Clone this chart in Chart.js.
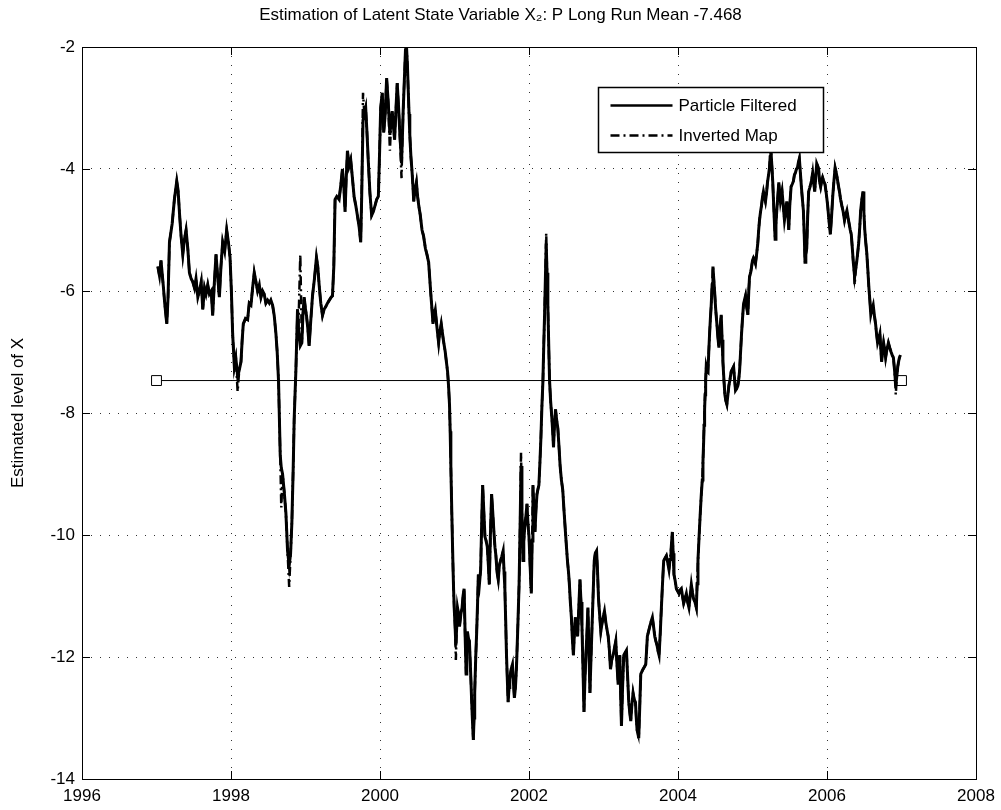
<!DOCTYPE html>
<html>
<head>
<meta charset="utf-8">
<title>Latent State Variable X2</title>
<script src="https://cdn.jsdelivr.net/npm/chart.js@4.4.1/dist/chart.umd.min.js"></script>
<style>
  html, body { margin: 0; padding: 0; background: #fff; }
  #wrap { width: 1001px; height: 810px; }
</style>
</head>
<body>
<div id="wrap"><canvas id="chartX2" width="1001" height="810"></canvas></div>
<script>
// sample dates (decimal years)
const years = [
  1997.018, 1997.04, 1997.06, 1997.09, 1997.11, 1997.138, 1997.155, 1997.174, 1997.21, 1997.24,
  1997.272, 1997.29, 1997.31, 1997.33, 1997.353, 1997.375, 1997.397, 1997.42, 1997.442, 1997.465,
  1997.487, 1997.51, 1997.53, 1997.555, 1997.576, 1997.6, 1997.621, 1997.645, 1997.665, 1997.688,
  1997.71, 1997.735, 1997.754, 1997.775, 1997.799, 1997.82, 1997.844, 1997.865, 1997.888, 1997.915,
  1997.942, 1997.965, 1997.987, 1998.005, 1998.022, 1998.045, 1998.065, 1998.089, 1998.11, 1998.134,
  1998.15, 1998.165, 1998.195, 1998.223, 1998.245, 1998.268, 1998.29, 1998.312, 1998.335, 1998.357,
  1998.38, 1998.402, 1998.424, 1998.445, 1998.468, 1998.491, 1998.515, 1998.535, 1998.558, 1998.58,
  1998.603, 1998.62, 1998.638, 1998.661, 1998.675, 1998.692, 1998.715, 1998.737, 1998.759, 1998.781,
  1998.8, 1998.817, 1998.835, 1998.848, 1998.871, 1998.893, 1998.905, 1998.93, 1998.951, 1998.965,
  1998.982, 1999.0, 1999.013, 1999.03, 1999.049, 1999.07, 1999.094, 1999.12, 1999.147, 1999.165,
  1999.183, 1999.205, 1999.228, 1999.25, 1999.275, 1999.295, 1999.32, 1999.345, 1999.362, 1999.38,
  1999.397, 1999.42, 1999.451, 1999.475, 1999.496, 1999.515, 1999.531, 1999.545, 1999.563, 1999.585,
  1999.607, 1999.63, 1999.652, 1999.675, 1999.696, 1999.72, 1999.741, 1999.755, 1999.772, 1999.79,
  1999.808, 1999.825, 1999.844, 1999.865, 1999.888, 1999.91, 1999.933, 1999.955, 1999.978, 1999.995,
  2000.009, 2000.03, 2000.05, 2000.07, 2000.089, 2000.11, 2000.133, 2000.15, 2000.164, 2000.18,
  2000.196, 2000.215, 2000.231, 2000.25, 2000.267, 2000.289, 2000.3, 2000.311, 2000.325, 2000.342,
  2000.356, 2000.368, 2000.378, 2000.39, 2000.4, 2000.415, 2000.431, 2000.443, 2000.453, 2000.47,
  2000.489, 2000.505, 2000.52, 2000.54, 2000.564, 2000.585, 2000.609, 2000.63, 2000.653, 2000.668,
  2000.684, 2000.698, 2000.711, 2000.725, 2000.742, 2000.765, 2000.787, 2000.8, 2000.822, 2000.85,
  2000.876, 2000.89, 2000.907, 2000.92, 2000.933, 2000.942, 2000.951, 2000.965, 2000.978, 2000.988,
  2000.996, 2001.008, 2001.018, 2001.03, 2001.04, 2001.055, 2001.067, 2001.085, 2001.102, 2001.115,
  2001.129, 2001.142, 2001.156, 2001.165, 2001.173, 2001.188, 2001.2, 2001.215, 2001.231, 2001.243,
  2001.253, 2001.262, 2001.271, 2001.285, 2001.298, 2001.31, 2001.32, 2001.335, 2001.351, 2001.365,
  2001.378, 2001.393, 2001.409, 2001.425, 2001.44, 2001.455, 2001.467, 2001.482, 2001.498, 2001.512,
  2001.529, 2001.543, 2001.556, 2001.57, 2001.587, 2001.602, 2001.618, 2001.635, 2001.653, 2001.665,
  2001.676, 2001.687, 2001.698, 2001.71, 2001.72, 2001.732, 2001.742, 2001.76, 2001.778, 2001.79,
  2001.804, 2001.818, 2001.831, 2001.85, 2001.867, 2001.88, 2001.893, 2001.905, 2001.92, 2001.93,
  2001.942, 2001.958, 2001.973, 2001.985, 2002.0, 2002.015, 2002.031, 2002.042, 2002.053, 2002.066,
  2002.08, 2002.093, 2002.107, 2002.12, 2002.133, 2002.147, 2002.16, 2002.173, 2002.187, 2002.198,
  2002.209, 2002.22, 2002.231, 2002.242, 2002.253, 2002.265, 2002.276, 2002.29, 2002.307, 2002.318,
  2002.329, 2002.342, 2002.356, 2002.37, 2002.387, 2002.4, 2002.418, 2002.435, 2002.453, 2002.47,
  2002.489, 2002.503, 2002.516, 2002.53, 2002.542, 2002.555, 2002.569, 2002.582, 2002.596, 2002.61,
  2002.622, 2002.638, 2002.653, 2002.668, 2002.684, 2002.698, 2002.711, 2002.725, 2002.738, 2002.75,
  2002.764, 2002.778, 2002.791, 2002.805, 2002.818, 2002.83, 2002.844, 2002.86, 2002.876, 2002.89,
  2002.907, 2002.92, 2002.933, 2002.948, 2002.964, 2002.98, 2002.996, 2003.013, 2003.031, 2003.047,
  2003.063, 2003.08, 2003.094, 2003.11, 2003.129, 2003.148, 2003.165, 2003.18, 2003.196, 2003.208,
  2003.219, 2003.23, 2003.241, 2003.256, 2003.272, 2003.29, 2003.308, 2003.323, 2003.339, 2003.352,
  2003.366, 2003.38, 2003.397, 2003.413, 2003.429, 2003.44, 2003.451, 2003.462, 2003.473, 2003.487,
  2003.5, 2003.515, 2003.531, 2003.55, 2003.567, 2003.578, 2003.589, 2003.605, 2003.621, 2003.638,
  2003.656, 2003.672, 2003.688, 2003.703, 2003.719, 2003.732, 2003.746, 2003.762, 2003.777, 2003.792,
  2003.808, 2003.826, 2003.844, 2003.862, 2003.879, 2003.893, 2003.906, 2003.915, 2003.924, 2003.935,
  2003.946, 2003.962, 2003.978, 2003.995, 2004.013, 2004.03, 2004.045, 2004.06, 2004.076, 2004.093,
  2004.112, 2004.13, 2004.147, 2004.163, 2004.179, 2004.195, 2004.21, 2004.228, 2004.246, 2004.257,
  2004.268, 2004.284, 2004.299, 2004.312, 2004.326, 2004.335, 2004.344, 2004.35, 2004.357, 2004.364,
  2004.371, 2004.379, 2004.39, 2004.402, 2004.413, 2004.424, 2004.435, 2004.446, 2004.458, 2004.469,
  2004.48, 2004.491, 2004.506, 2004.522, 2004.535, 2004.549, 2004.565, 2004.58, 2004.592, 2004.603,
  2004.616, 2004.629, 2004.642, 2004.656, 2004.67, 2004.683, 2004.698, 2004.714, 2004.73, 2004.746,
  2004.76, 2004.772, 2004.788, 2004.804, 2004.815, 2004.826, 2004.84, 2004.853, 2004.866, 2004.879,
  2004.892, 2004.906, 2004.92, 2004.938, 2004.95, 2004.96, 2004.975, 2004.987, 2005.0, 2005.013,
  2005.027, 2005.04, 2005.055, 2005.071, 2005.083, 2005.094, 2005.108, 2005.121, 2005.135, 2005.147,
  2005.16, 2005.174, 2005.188, 2005.201, 2005.215, 2005.228, 2005.237, 2005.246, 2005.26, 2005.272,
  2005.288, 2005.304, 2005.315, 2005.326, 2005.34, 2005.353, 2005.365, 2005.375, 2005.386, 2005.397,
  2005.413, 2005.429, 2005.445, 2005.46, 2005.475, 2005.487, 2005.5, 2005.518, 2005.533, 2005.549,
  2005.562, 2005.576, 2005.59, 2005.603, 2005.615, 2005.629, 2005.642, 2005.656, 2005.67, 2005.683,
  2005.695, 2005.705, 2005.716, 2005.728, 2005.74, 2005.754, 2005.77, 2005.786, 2005.797, 2005.808,
  2005.82, 2005.835, 2005.848, 2005.862, 2005.875, 2005.888, 2005.9, 2005.915, 2005.928, 2005.941,
  2005.957, 2005.973, 2005.99, 2006.009, 2006.027, 2006.045, 2006.06, 2006.077, 2006.093, 2006.109,
  2006.122, 2006.136, 2006.15, 2006.167, 2006.183, 2006.199, 2006.217, 2006.235, 2006.25, 2006.267,
  2006.283, 2006.299, 2006.312, 2006.326, 2006.34, 2006.353, 2006.362, 2006.371, 2006.385, 2006.398,
  2006.41, 2006.425, 2006.44, 2006.452, 2006.468, 2006.484, 2006.495, 2006.507, 2006.52, 2006.534,
  2006.548, 2006.561, 2006.575, 2006.588, 2006.604, 2006.62, 2006.636, 2006.652, 2006.665, 2006.679,
  2006.695, 2006.71, 2006.722, 2006.733, 2006.746, 2006.76, 2006.774, 2006.787, 2006.805, 2006.824,
  2006.842, 2006.86, 2006.875, 2006.891, 2006.907, 2006.923, 2006.937, 2006.95, 2006.962, 2006.973,
  2006.986
];

// particle filtered estimate of X2
const particleFiltered = [
  -5.6, -5.75, -5.5, -5.9, -6.2, -6.54, -6.1, -5.2, -4.9, -4.5,
  -4.2, -4.35, -4.75, -5.1, -5.4, -5.15, -5.0, -5.3, -5.7, -5.8,
  -5.85, -5.95, -5.8, -6.1, -6.0, -5.85, -6.3, -5.95, -6.05, -5.9,
  -6.05, -6.0, -6.4, -5.9, -5.4, -5.75, -6.1, -5.6, -5.2, -5.35,
  -5.0, -5.2, -5.45, -6.0, -6.7, -7.24, -7.1, -7.4, -7.3, -7.16,
  -6.8, -6.54, -6.45, -6.47, -6.2, -6.23, -5.95, -5.7, -5.85, -6.0,
  -5.9, -6.1, -6.0, -6.05, -6.2, -6.15, -6.2, -6.15, -6.23, -6.4,
  -6.7, -7.0, -7.47, -8.7, -8.9, -9.0, -9.3, -9.64, -10.26, -10.5,
  -10.3, -9.8, -8.9, -8.1, -7.3, -6.3, -6.6, -6.9, -6.85, -6.4,
  -6.1, -6.3, -6.4, -6.6, -6.9, -6.5, -6.08, -5.8, -5.45, -5.6,
  -5.9, -6.2, -6.4, -6.3, -6.25, -6.2, -6.15, -6.1, -6.08, -5.6,
  -4.5, -4.45, -4.5, -4.25, -4.0, -4.3, -4.7, -4.2, -3.7, -3.95,
  -3.85, -4.15, -4.45, -4.6, -4.76, -4.95, -5.2, -4.4, -3.2, -3.1,
  -3.0, -3.4, -3.9, -4.4, -4.76, -4.7, -4.6, -4.5, -4.45, -3.7,
  -3.0, -2.75, -3.4, -3.1, -2.51, -2.9, -3.44, -3.2, -3.05, -3.3,
  -3.52, -3.0, -2.59, -3.0, -3.44, -3.9, -3.5, -3.05, -2.6, -2.05,
  -2.0, -2.3, -2.67, -3.1, -3.44, -3.8, -4.06, -4.3, -4.53, -4.35,
  -4.22, -4.45, -4.6, -4.75, -5.0, -5.1, -5.3, -5.4, -5.53, -5.8,
  -6.08, -6.3, -6.54, -6.4, -6.31, -6.6, -6.85, -6.7, -6.54, -6.8,
  -7.0, -7.15, -7.32, -7.55, -7.86, -8.3, -8.87, -9.7, -10.42, -10.9,
  -11.19, -11.5, -11.81, -11.5, -11.19, -11.3, -11.5, -11.3, -11.19, -11.0,
  -10.88, -11.6, -12.28, -11.9, -11.58, -11.7, -11.74, -12.2, -12.74, -13.1,
  -13.36, -13.0, -12.59, -12.0, -11.58, -11.1, -10.65, -10.8, -10.57, -9.8,
  -9.18, -9.6, -10.03, -10.1, -10.19, -10.5, -10.81, -10.0, -9.33, -9.6,
  -9.95, -10.2, -10.34, -10.6, -10.73, -10.5, -10.42, -10.35, -10.26, -10.6,
  -10.88, -11.4, -11.97, -12.4, -12.74, -12.5, -12.36, -12.2, -12.12, -12.4,
  -12.67, -12.5, -12.2, -11.5, -10.81, -9.9, -8.87, -9.6, -10.42, -10.1,
  -9.88, -9.7, -9.49, -9.8, -10.03, -10.5, -10.96, -10.1, -9.18, -9.6,
  -9.95, -9.6, -9.33, -9.25, -9.18, -8.8, -8.4, -7.9, -7.47, -6.9,
  -6.39, -5.8, -5.22, -5.7, -6.23, -6.9, -7.47, -7.8, -8.09, -8.3,
  -8.56, -8.2, -7.94, -8.1, -8.25, -8.5, -8.87, -9.1, -9.26, -9.6,
  -9.95, -10.2, -10.42, -10.6, -10.81, -11.1, -11.35, -11.7, -11.97, -11.6,
  -11.35, -11.5, -11.66, -11.2, -10.73, -11.1, -11.5, -12.2, -12.9, -12.4,
  -11.97, -11.6, -11.19, -11.9, -12.59, -12.1, -11.58, -11.0, -10.42, -10.3,
  -10.26, -10.6, -11.04, -11.3, -11.58, -11.45, -11.35, -11.25, -11.43, -11.55,
  -11.66, -11.9, -12.2, -12.05, -11.97, -11.85, -11.74, -12.1, -12.43, -12.1,
  -11.97, -12.6, -13.13, -12.5, -11.97, -11.93, -11.89, -12.3, -12.74, -12.9,
  -13.05, -12.8, -12.59, -12.7, -12.74, -13.0, -13.2, -13.25, -13.33, -12.8,
  -12.28, -12.24, -12.2, -12.16, -12.12, -11.9, -11.66, -11.58, -11.5, -11.42,
  -11.35, -11.5, -11.66, -11.74, -11.81, -11.9, -11.97, -11.6, -11.19, -10.8,
  -10.42, -10.38, -10.34, -10.45, -10.57, -10.4, -10.26, -10.1, -9.95, -10.3,
  -10.65, -10.75, -10.88, -10.92, -10.96, -10.9, -10.88, -11.0, -11.12, -11.05,
  -10.96, -11.1, -11.19, -11.0, -10.81, -10.95, -11.05, -11.1, -11.19, -10.8,
  -10.42, -10.0, -9.64, -9.35, -9.1, -8.8, -8.48, -8.2, -7.94, -7.7,
  -7.47, -7.24, -7.3, -7.32, -7.0, -6.7, -6.45, -6.23, -5.9, -5.6,
  -5.8, -6.0, -6.3, -6.54, -6.75, -6.93, -6.6, -6.39, -6.8, -7.16,
  -7.45, -7.7, -7.8, -7.86, -7.7, -7.55, -7.45, -7.32, -7.28, -7.24,
  -7.45, -7.63, -7.6, -7.55, -7.45, -7.32, -7.0, -6.7, -6.45, -6.23,
  -6.15, -6.08, -6.25, -6.39, -6.0, -5.77, -5.7, -5.61, -5.5, -5.46,
  -5.5, -5.55, -5.4, -5.22, -5.0, -4.84, -4.7, -4.6, -4.45, -4.37,
  -4.45, -4.53, -4.4, -4.22, -4.1, -3.98, -3.8, -3.67, -3.95, -4.22,
  -4.7, -5.15, -4.9, -4.68, -4.45, -4.22, -4.4, -4.53, -4.45, -4.37,
  -4.6, -4.84, -4.7, -4.53, -4.75, -5.0, -4.6, -4.29, -4.25, -4.2,
  -4.1, -4.06, -4.0, -3.98, -3.9, -3.83, -4.05, -4.29, -4.5, -4.68,
  -5.1, -5.53, -5.4, -5.3, -4.8, -4.37, -4.3, -4.22, -4.15, -4.06,
  -4.2, -4.37, -4.15, -3.91, -3.95, -4.0, -4.2, -4.29, -4.2, -4.14,
  -4.2, -4.25, -4.4, -4.6, -4.85, -5.07, -4.8, -4.45, -4.2, -3.98,
  -4.05, -4.14, -4.25, -4.37, -4.5, -4.6, -4.7, -4.84, -4.75, -4.68,
  -4.8, -4.91, -5.0, -5.07, -5.3, -5.53, -5.65, -5.77, -5.65, -5.53,
  -5.4, -5.22, -4.95, -4.68, -4.5, -4.37, -4.7, -5.0, -5.2, -5.38,
  -5.65, -5.92, -6.15, -6.39, -6.3, -6.23, -6.4, -6.54, -6.7, -6.85,
  -6.78, -6.7, -6.95, -7.16, -7.0, -6.85, -6.95, -7.09, -6.95, -6.85,
  -6.93, -7.0, -7.05, -7.09, -7.3, -7.55, -7.4, -7.24, -7.15, -7.09,
  -7.05
];

// inverted map estimate (same dates)
const invertedMap = [
  -5.6, -5.75, -5.5, -5.9, -6.2, -6.54, -6.1, -5.2, -4.9, -4.5,
  -4.2, -4.35, -4.75, -5.1, -5.4, -5.15, -5.0, -5.3, -5.7, -5.8,
  -5.85, -5.95, -5.8, -6.1, -6.0, -5.85, -6.3, -5.95, -6.05, -5.9,
  -6.05, -6.0, -6.4, -5.9, -5.4, -5.75, -6.1, -5.6, -5.2, -5.35,
  -5.0, -5.2, -5.45, -6.0, -6.7, -7.24, -7.1, -7.65, -7.3, -7.16,
  -6.8, -6.54, -6.45, -6.47, -6.2, -6.23, -5.95, -5.7, -5.85, -6.0,
  -5.9, -6.1, -6.0, -6.05, -6.2, -6.15, -6.2, -6.15, -6.23, -6.4,
  -6.7, -7.0, -7.47, -8.7, -9.55, -9.0, -9.3, -9.64, -10.26, -10.85,
  -10.3, -9.8, -8.9, -8.1, -7.3, -6.3, -6.6, -5.4, -6.85, -6.4,
  -6.1, -6.3, -6.4, -6.6, -6.9, -6.5, -6.08, -5.8, -5.45, -5.6,
  -5.9, -6.2, -6.4, -6.3, -6.25, -6.2, -6.15, -6.1, -6.08, -5.6,
  -4.5, -4.45, -4.5, -4.25, -4.0, -4.3, -4.7, -4.2, -3.7, -3.95,
  -3.85, -4.15, -4.45, -4.6, -4.76, -4.95, -5.2, -4.4, -2.75, -3.1,
  -3.0, -3.4, -3.9, -4.4, -4.76, -4.7, -4.6, -4.5, -4.45, -3.7,
  -3.0, -2.75, -3.4, -3.1, -2.51, -2.9, -3.7, -3.2, -3.05, -3.3,
  -3.52, -3.0, -2.59, -3.0, -3.44, -4.15, -3.5, -3.05, -2.6, -2.05,
  -2.0, -2.3, -2.67, -3.1, -3.44, -3.8, -4.06, -4.3, -4.53, -4.35,
  -4.22, -4.45, -4.6, -4.75, -5.0, -5.1, -5.3, -5.4, -5.53, -5.8,
  -6.08, -6.3, -6.54, -6.4, -6.31, -6.6, -6.85, -6.7, -6.54, -6.8,
  -7.0, -7.15, -7.32, -7.55, -7.86, -8.3, -8.87, -9.7, -10.42, -10.9,
  -11.19, -11.5, -12.05, -11.5, -11.19, -11.3, -11.5, -11.3, -11.19, -11.0,
  -10.88, -11.6, -12.28, -11.9, -11.58, -11.7, -11.74, -12.2, -12.74, -13.1,
  -13.36, -13.0, -12.59, -12.0, -11.58, -11.1, -10.65, -10.8, -10.57, -9.8,
  -9.18, -9.6, -10.03, -10.1, -10.19, -10.5, -10.81, -10.0, -9.33, -9.6,
  -9.95, -10.2, -10.34, -10.6, -10.73, -10.5, -10.42, -10.35, -10.26, -10.6,
  -10.88, -11.4, -11.97, -12.4, -12.74, -12.5, -12.36, -12.2, -12.12, -12.4,
  -12.67, -12.5, -12.2, -11.5, -10.81, -9.9, -8.65, -9.6, -10.42, -10.1,
  -9.88, -9.7, -9.49, -9.8, -10.03, -10.5, -10.96, -10.1, -9.18, -9.6,
  -9.95, -9.6, -9.33, -9.25, -9.18, -8.8, -8.4, -7.9, -7.47, -6.9,
  -6.39, -5.8, -5.05, -5.7, -6.23, -6.9, -7.47, -7.8, -8.09, -8.3,
  -8.56, -8.2, -7.94, -8.1, -8.25, -8.5, -8.87, -9.1, -9.26, -9.6,
  -9.95, -10.2, -10.42, -10.6, -10.81, -11.1, -11.35, -11.7, -11.97, -11.6,
  -11.35, -11.5, -11.66, -11.2, -10.73, -11.1, -11.5, -12.2, -12.9, -12.4,
  -11.97, -11.6, -11.19, -11.9, -12.59, -12.1, -11.58, -11.0, -10.42, -10.3,
  -10.26, -10.6, -11.04, -11.3, -11.58, -11.45, -11.35, -11.25, -11.43, -11.55,
  -11.66, -11.9, -12.2, -12.05, -11.97, -11.85, -11.74, -12.1, -12.43, -12.1,
  -11.97, -12.6, -13.13, -12.5, -11.97, -11.93, -11.89, -12.3, -12.74, -12.9,
  -13.05, -12.8, -12.59, -12.7, -12.74, -13.0, -13.2, -13.25, -13.33, -12.8,
  -12.28, -12.24, -12.2, -12.16, -12.12, -11.9, -11.66, -11.58, -11.5, -11.42,
  -11.35, -11.5, -11.66, -11.74, -11.81, -11.9, -11.97, -11.6, -11.19, -10.8,
  -10.42, -10.38, -10.34, -10.45, -10.57, -10.4, -10.26, -10.1, -9.95, -10.3,
  -10.65, -10.75, -10.88, -10.92, -10.96, -10.9, -10.88, -11.0, -11.12, -11.05,
  -10.96, -11.1, -11.19, -11.0, -10.81, -10.95, -11.05, -11.1, -11.19, -10.8,
  -10.42, -10.0, -9.64, -9.35, -9.1, -8.8, -8.48, -8.2, -7.94, -7.7,
  -7.47, -7.24, -7.3, -7.32, -7.0, -6.7, -6.45, -6.23, -5.9, -5.6,
  -5.8, -6.0, -6.3, -6.54, -6.75, -6.93, -6.6, -6.39, -6.8, -7.16,
  -7.45, -7.7, -7.8, -7.86, -7.7, -7.55, -7.45, -7.32, -7.28, -7.24,
  -7.45, -7.63, -7.6, -7.55, -7.45, -7.32, -7.0, -6.7, -6.45, -6.23,
  -6.15, -6.08, -6.25, -6.39, -6.0, -5.77, -5.7, -5.61, -5.5, -5.46,
  -5.5, -5.55, -5.4, -5.22, -5.0, -4.84, -4.7, -4.6, -4.45, -4.37,
  -4.45, -4.53, -4.4, -4.22, -4.1, -3.98, -3.8, -3.67, -3.95, -4.22,
  -4.7, -5.15, -4.9, -4.68, -4.45, -4.22, -4.4, -4.53, -4.45, -4.37,
  -4.6, -4.84, -4.7, -4.53, -4.75, -5.0, -4.6, -4.29, -4.25, -4.2,
  -4.1, -4.06, -4.0, -3.98, -3.9, -3.83, -4.05, -4.29, -4.5, -4.68,
  -5.1, -5.53, -5.4, -5.3, -4.8, -4.37, -4.3, -4.22, -4.15, -4.06,
  -4.2, -4.37, -4.15, -3.91, -3.95, -4.0, -4.2, -4.29, -4.2, -4.14,
  -4.2, -4.25, -4.4, -4.6, -4.85, -5.07, -4.8, -4.45, -4.2, -3.98,
  -4.05, -4.14, -4.25, -4.37, -4.5, -4.6, -4.7, -4.84, -4.75, -4.68,
  -4.8, -4.91, -5.0, -5.07, -5.3, -5.53, -5.65, -5.9, -5.65, -5.53,
  -5.4, -5.22, -4.95, -4.68, -4.5, -4.37, -4.7, -5.0, -5.2, -5.38,
  -5.65, -5.92, -6.15, -6.39, -6.3, -6.23, -6.4, -6.54, -6.7, -6.85,
  -6.78, -6.7, -6.95, -7.16, -7.0, -6.85, -6.95, -7.09, -6.95, -6.85,
  -6.93, -7.0, -7.05, -7.09, -7.3, -7.7, -7.4, -7.24, -7.15, -7.09,
  -7.05
];

// long run mean line, drawn from first to last year
const longRunMean = -7.468;
const meanYears = [1997, 2007];

const xTicks = [1996, 1998, 2000, 2002, 2004, 2006, 2008];
const yTicks = [-14, -12, -10, -8, -6, -4, -2];

const FONT = "'Liberation Sans', Arial, Helvetica, sans-serif";

function toPoints(xs, ys) {
  return xs.map((x, i) => ({ x: x, y: ys[i] }));
}

// white background behind everything
const whiteBg = {
  id: 'whiteBg',
  beforeDraw(chart) {
    const ctx = chart.ctx;
    ctx.save();
    ctx.fillStyle = '#fff';
    ctx.fillRect(0, 0, chart.width, chart.height);
    ctx.restore();
  }
};

// matlab style box with inward ticks, plus legend inside the axes
const axesBox = {
  id: 'axesBox',
  afterDraw(chart) {
    const ctx = chart.ctx;
    const a = chart.chartArea;
    const xs = chart.scales.x, ys = chart.scales.y;
    const tk = 8;
    ctx.save();
    ctx.strokeStyle = '#000';
    ctx.lineWidth = 1;
    ctx.setLineDash([]);
    ctx.strokeRect(Math.round(a.left) + 0.5, Math.round(a.top) + 0.5,
      Math.round(a.right - a.left), Math.round(a.bottom - a.top));
    ctx.beginPath();
    xTicks.forEach(v => {
      const px = Math.round(xs.getPixelForValue(v)) + 0.5;
      ctx.moveTo(px, a.bottom); ctx.lineTo(px, a.bottom - tk);
      ctx.moveTo(px, a.top); ctx.lineTo(px, a.top + tk);
    });
    yTicks.forEach(v => {
      const py = Math.round(ys.getPixelForValue(v)) + 0.5;
      ctx.moveTo(a.left, py); ctx.lineTo(a.left + tk, py);
      ctx.moveTo(a.right, py); ctx.lineTo(a.right - tk, py);
    });
    ctx.stroke();

    // legend
    const bx = Math.round(a.right - 378) + 0.5, by = Math.round(a.top + 40) + 0.5;
    const bw = 225, bh = 65;
    ctx.fillStyle = '#fff';
    ctx.fillRect(bx, by, bw, bh);
    ctx.lineWidth = 1.5;
    ctx.strokeRect(bx, by, bw, bh);
    const rows = [
      { label: chart.data.datasets[0].label, dash: [] },
      { label: chart.data.datasets[1].label, dash: [9, 4, 2, 4] }
    ];
    ctx.font = '17px ' + FONT;
    ctx.fillStyle = '#000';
    ctx.textBaseline = 'middle';
    rows.forEach((r, i) => {
      const y = by + 18 + i * 30;
      ctx.lineWidth = 2.5;
      ctx.setLineDash(r.dash);
      ctx.beginPath();
      ctx.moveTo(bx + 12, y);
      ctx.lineTo(bx + 74, y);
      ctx.stroke();
      ctx.setLineDash([]);
      ctx.fillText(r.label, bx + 80, y + 1);
    });
    ctx.restore();
  }
};

const chartX2 = new Chart(document.getElementById('chartX2'), {
  type: 'line',
  data: {
    datasets: [
      {
        label: 'Particle Filtered',
        data: toPoints(years, particleFiltered),
        borderColor: '#000',
        borderWidth: 3,
        pointRadius: 0,
        tension: 0
      },
      {
        label: 'Inverted Map',
        data: toPoints(years, invertedMap),
        borderColor: '#000',
        borderWidth: 2.5,
        borderDash: [9, 4, 2, 4],
        pointRadius: 0,
        tension: 0
      },
      {
        label: 'Long Run Mean',
        data: toPoints(meanYears, [longRunMean, longRunMean]),
        borderColor: '#000',
        borderWidth: 1,
        pointStyle: 'rect',
        pointRadius: 7,
        pointBorderWidth: 1,
        pointBackgroundColor: '#fff',
        pointBorderColor: '#000',
        tension: 0
      }
    ]
  },
  options: {
    responsive: false,
    animation: false,
    layout: { padding: 0 },
    plugins: {
      legend: { display: false },
      tooltip: { enabled: false },
      title: {
        display: true,
        text: 'Estimation of Latent State Variable X\u2082: P Long Run Mean -7.468',
        color: '#000',
        font: { family: FONT, size: 17, weight: 'normal' },
        padding: { top: 5, bottom: 21.6 }
      }
    },
    scales: {
      x: {
        type: 'linear',
        min: 1996,
        max: 2008,
        afterBuildTicks: s => { s.ticks = xTicks.map(v => ({ value: v })); },
        afterFit: s => { s.height = 31; s.paddingRight = 25; },
        ticks: {
          color: '#000',
          font: { family: FONT, size: 17 },
          padding: 7,
          maxRotation: 0,
          autoSkip: false,
          callback: v => String(v)
        },
        grid: { color: '#333', lineWidth: 1, drawTicks: false },
        border: { display: false, dash: [1, 8] }
      },
      y: {
        type: 'linear',
        min: -14,
        max: -2,
        afterBuildTicks: s => { s.ticks = yTicks.map(v => ({ value: v })); },
        afterFit: s => { s.width = 82; },
        ticks: {
          color: '#000',
          font: { family: FONT, size: 17 },
          padding: 7,
          callback: v => String(v)
        },
        grid: { color: '#333', lineWidth: 1, drawTicks: false },
        border: { display: false, dash: [1, 8] },
        title: {
          display: true,
          text: 'Estimated level of X',
          color: '#000',
          font: { family: FONT, size: 17 },
          padding: { top: 8, bottom: 0 }
        }
      }
    }
  },
  plugins: [whiteBg, axesBox]
});
</script>
</body>
</html>
